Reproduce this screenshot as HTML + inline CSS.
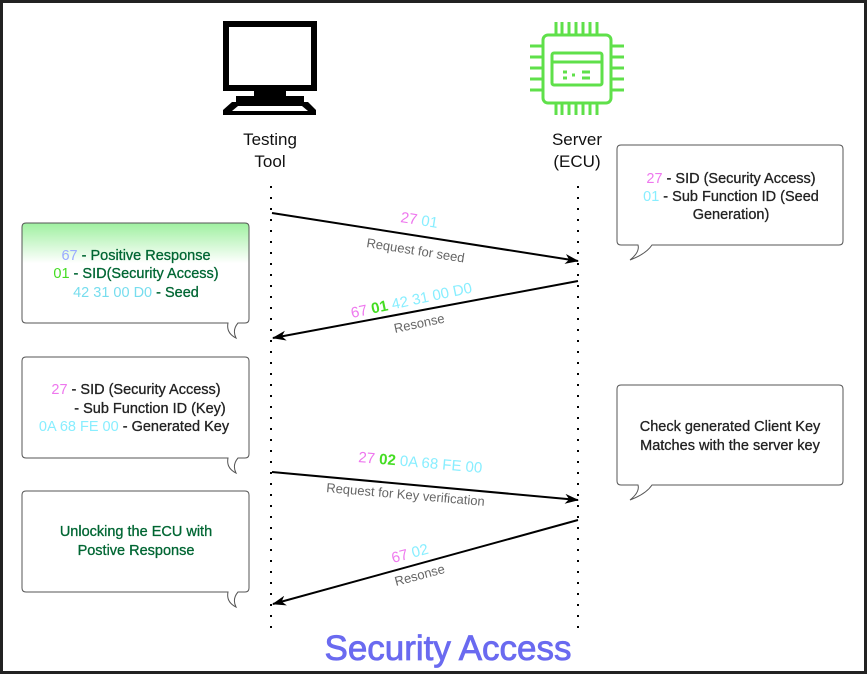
<!DOCTYPE html>
<html><head><meta charset="utf-8"><style>
html,body{margin:0;padding:0;background:#fff}
svg{display:block;font-family:"Liberation Sans",Arial,sans-serif}
</style></head><body>
<svg width="867" height="675" viewBox="0 0 867 675" xmlns="http://www.w3.org/2000/svg">
<defs>
<linearGradient id="g" x1="0" y1="0" x2="0" y2="1">
<stop offset="0" stop-color="#9ff0a0"/><stop offset="0.35" stop-color="#ffffff"/></linearGradient>
<marker id="ah" markerWidth="14" markerHeight="10" refX="13" refY="5" orient="auto" markerUnits="userSpaceOnUse">
<path d="M0,0 L14,5 L0,10 L4,5 Z" fill="#000"/></marker>
</defs>
<rect x="1.5" y="1.5" width="864" height="671" fill="#fff" stroke="#222" stroke-width="3"/>
<!-- monitor -->
<rect x="226" y="24" width="88" height="64" fill="#fff" stroke="#000" stroke-width="6"/>
<rect x="254" y="90" width="32" height="6" fill="#000"/>
<rect x="236" y="96" width="68" height="6" fill="#000"/>
<path d="M232,102 L308,102 L316,110 L316,115 L223,115 L223,110 Z" fill="#000"/>
<path d="M238,106 L302,106 L308,111 L232,111 Z" fill="#fff"/>
<!-- chip -->
<g stroke="#5fe04a" stroke-width="3" fill="none">
<rect x="543" y="35" width="68" height="68" rx="5"/>
<rect x="552" y="53" width="50" height="32" rx="2"/>
<line x1="552" y1="62" x2="602" y2="62"/>
<path d="M556,22v13M562,22v13M569,22v13M576,22v13M583,22v13M590,22v13M597,22v13"/>
<path d="M556,103v12M562,103v12M569,103v12M576,103v12M583,103v12M590,103v12M597,103v12"/>
<path d="M530,46h13M530,57h13M530,68h13M530,79h13M530,90h13"/>
<path d="M611,46h13M611,57h13M611,68h13M611,79h13M611,90h13"/>
<path d="M563,72h4M563,78h4M572,75h3M582,72h8M582,78h8"/>
</g>
<text font-size="17" fill="#111" text-anchor="middle"><tspan x="270" y="145">Testing</tspan><tspan x="270" y="167">Tool</tspan></text>
<text font-size="17" fill="#111" text-anchor="middle"><tspan x="577" y="145">Server</tspan><tspan x="577" y="167">(ECU)</tspan></text>
<!-- lifelines -->
<line x1="271" y1="186" x2="271" y2="628" stroke="#000" stroke-width="2" stroke-dasharray="2,9"/>
<line x1="578" y1="186" x2="578" y2="628" stroke="#000" stroke-width="2" stroke-dasharray="2,9"/>
<!-- callouts -->
<g stroke="#555" stroke-width="1" fill="#fff">
<path d="M26,223 H245 Q249,223 249,227 V319 Q249,323 245,323 H238 Q232,330 236,338 Q226,333 228,323 H26 Q22,323 22,319 V227 Q22,223 26,223Z" fill="url(#g)"/>
<path d="M26,357 H245 Q249,357 249,361 V454 Q249,458 245,458 H238 Q232,465 236,473 Q226,468 228,458 H26 Q22,458 22,454 V361 Q22,357 26,357Z"/>
<path d="M26,491 H245 Q249,491 249,495 V588 Q249,592 245,592 H238 Q232,599 236,607 Q226,602 228,592 H26 Q22,592 22,588 V495 Q22,491 26,491Z"/>
<path d="M621,145 H839 Q843,145 843,149 V241 Q843,245 839,245 H652 Q646,254 630,260 Q640,252 638,245 H621 Q617,245 617,241 V149 Q617,145 621,145Z"/>
<path d="M621,385 H839 Q843,385 843,389 V481 Q843,485 839,485 H652 Q646,494 630,500 Q640,492 638,485 H621 Q617,485 617,481 V389 Q617,385 621,385Z"/>
</g>
<g font-size="14.5" text-anchor="middle" stroke-width="0.3">
<text x="136" y="260" fill="#063" stroke="#063"><tspan fill="#99aaff" stroke="none">67</tspan> - Positive Response</text>
<text x="136" y="278" fill="#063" stroke="#063"><tspan fill="#44dd22" stroke="none">01</tspan> - SID(Security Access)</text>
<text x="136" y="297" fill="#063" stroke="#063"><tspan fill="#77ddee" stroke="none">42 31 00 D0</tspan> - Seed</text>
<text x="136" y="394" fill="#222" stroke="#222"><tspan fill="#ee77ee" stroke="none">27</tspan> - SID (Security Access)</text>
<text x="150" y="413" fill="#222" stroke="#222">- Sub Function ID (Key)</text>
<text x="134" y="431" fill="#222" stroke="#222"><tspan fill="#88eeff" stroke="none">0A 68 FE 00</tspan> - Generated Key</text>
<text x="136" y="536" fill="#063" stroke="#063">Unlocking the ECU with</text>
<text x="136" y="555" fill="#063" stroke="#063">Postive Response</text>
<text x="731" y="183" fill="#222" stroke="#222"><tspan fill="#ee77ee" stroke="none">27</tspan> - SID (Security Access)</text>
<text x="731" y="201" fill="#222" stroke="#222"><tspan fill="#88eeff" stroke="none">01</tspan> - Sub Function ID (Seed</text>
<text x="731" y="219" fill="#222" stroke="#222">Generation)</text>
<text x="730" y="431" fill="#222" stroke="#222">Check generated Client Key</text>
<text x="730" y="450" fill="#222" stroke="#222">Matches with the server key</text>
</g>
<!-- arrows -->
<g stroke="#000" stroke-width="2" marker-end="url(#ah)">
<line x1="272" y1="213" x2="578" y2="261"/>
<line x1="578" y1="281" x2="273" y2="338"/>
<line x1="272" y1="472" x2="578" y2="500"/>
<line x1="578" y1="520" x2="273" y2="604"/>
</g>
<g font-size="15">
<text transform="translate(400,222) rotate(9)" fill="#ee77ee">27 <tspan fill="#88eeff">01</tspan></text>
<text transform="translate(366,247) rotate(9)" font-size="13" fill="#666">Request for seed</text>
<text transform="translate(352,318) rotate(-12)" fill="#ee77ee">67 <tspan fill="#44dd22" font-weight="bold">01</tspan> <tspan fill="#88eeff">42 31 00 D0</tspan></text>
<text transform="translate(395,333) rotate(-12)" font-size="13" fill="#666">Resonse</text>
<text transform="translate(358,462) rotate(5)" fill="#ee77ee">27 <tspan fill="#44dd22" font-weight="bold">02</tspan> <tspan fill="#88eeff">0A 68 FE 00</tspan></text>
<text transform="translate(326,492) rotate(5)" font-size="13" fill="#666">Request for Key verification</text>
<text transform="translate(393,563) rotate(-15)" fill="#ee77ee">67 <tspan fill="#88eeff">02</tspan></text>
<text transform="translate(396,586) rotate(-15)" font-size="13" fill="#666">Resonse</text>
</g>
<text x="448" y="660" text-anchor="middle" font-size="35" fill="#6a6af0" stroke="#6a6af0" stroke-width="0.8">Security Access</text>
</svg>
</body></html>
